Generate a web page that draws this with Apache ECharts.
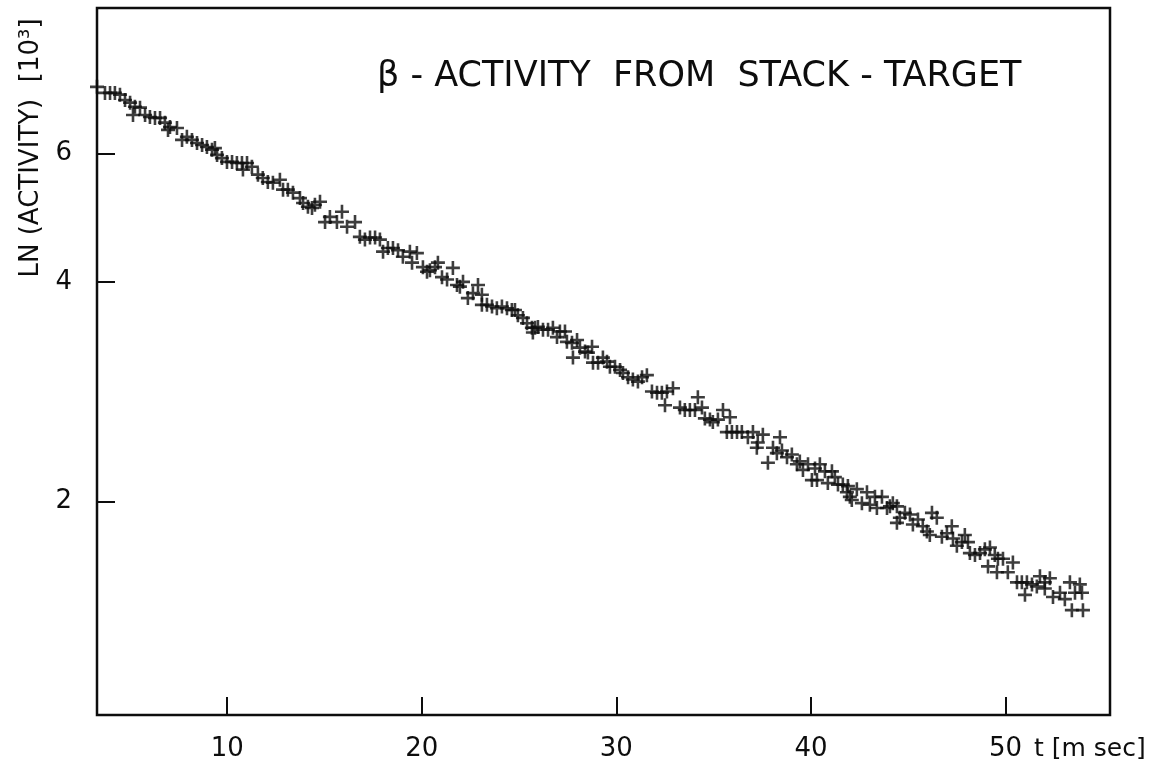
<!DOCTYPE html>
<html>
<head>
<meta charset="utf-8">
<script src="https://cdn.jsdelivr.net/npm/echarts@6/dist/echarts.min.js"></script>
<style>
html,body{margin:0;padding:0;background:#ffffff;}
#chart{width:1154px;height:769px;}
</style>
</head>
<body>
<div id="chart"></div>
<script>
// ---- texts ----
const titleText = 'β - ACTIVITY  FROM  STACK - TARGET';
const yAxisTitle = 'LN (ACTIVITY)  [10³]';
const xAxisTitle = 't [m sec]';

// ---- tick labels ----
const xTicks = [10, 20, 30, 40, 50];
const yTicks = [2, 4, 6];

// ---- axis ranges ----
const xRange = [3.31, 55.37];
const yRange = [1.02, 9.49];

// ---- measured points: time t [ms] ----
const tValues = [
  3.31, 3.72, 3.98, 4.23, 4.49, 4.75, 5.01, 5.26, 5.52, 5.16,
  5.78, 6.03, 6.29, 6.55, 6.80, 7.06, 7.42, 6.96, 7.68, 7.93,
  8.19, 8.45, 8.71, 8.96, 9.22, 9.37, 9.48, 9.73, 9.99, 10.25,
  10.50, 10.76, 11.02, 11.27, 10.81, 11.58, 11.83, 12.09, 12.35, 12.71,
  12.87, 13.12, 13.38, 13.74, 13.90, 14.15, 14.36, 14.51, 14.77, 15.03,
  15.28, 15.64, 15.90, 16.16, 16.57, 16.82, 17.08, 17.34, 17.60, 17.85,
  18.01, 18.26, 18.52, 18.78, 19.03, 19.39, 19.50, 19.75, 20.06, 20.27,
  20.42, 20.68, 20.83, 21.60, 21.04, 21.30, 21.81, 21.96, 22.12, 22.37,
  22.63, 22.89, 23.09, 23.09, 23.35, 23.61, 23.86, 24.12, 24.38, 24.63,
  24.79, 24.94, 25.20, 25.41, 25.66, 25.82, 25.97, 25.71, 26.23, 26.49,
  26.74, 26.95, 27.10, 27.36, 27.46, 27.72, 27.98, 28.13, 28.39, 28.54,
  28.75, 27.77, 28.80, 29.06, 29.31, 29.52, 29.67, 29.93, 30.19, 30.34,
  30.60, 30.85, 31.11, 31.32, 31.57, 31.83, 32.09, 32.34, 32.60, 32.91,
  32.50, 33.27, 33.52, 33.78, 34.04, 34.19, 34.40, 34.55, 34.81, 34.96,
  35.22, 35.48, 35.84, 35.68, 35.94, 36.20, 36.45, 36.76, 37.02, 37.22,
  37.53, 37.27, 37.79, 38.41, 38.05, 38.25, 38.51, 38.77, 39.02, 39.28,
  39.43, 39.59, 39.85, 40.05, 40.21, 40.46, 40.31, 40.72, 40.87, 41.08,
  41.23, 41.39, 41.64, 41.90, 41.85, 42.00, 42.10, 42.36, 42.62, 42.88,
  43.03, 43.29, 43.39, 43.65, 43.91, 44.06, 44.21, 44.42, 44.57, 44.42,
  44.83, 45.09, 45.24, 45.50, 45.75, 45.96, 46.22, 46.47, 46.11, 46.73,
  46.99, 47.24, 47.30, 47.50, 47.76, 47.91, 48.07, 48.17, 48.43, 48.69,
  48.94, 49.20, 49.45, 49.61, 49.87, 50.12, 50.38, 49.10, 49.56, 50.59,
  50.84, 51.10, 51.36, 51.61, 51.77, 52.02, 52.28, 51.00, 52.02, 52.44,
  52.80, 53.05, 53.31, 53.57, 53.82, 53.93, 53.41, 53.98
];

// ---- measured points: activity [10^3] ----
const activity = [
  7.40, 7.26, 7.26, 7.26, 7.22, 7.10, 7.04, 6.95, 6.93, 6.77,
  6.77, 6.73, 6.71, 6.71, 6.61, 6.52, 6.50, 6.46, 6.26, 6.32,
  6.26, 6.20, 6.16, 6.12, 6.07, 6.10, 5.97, 5.91, 5.84, 5.84,
  5.82, 5.82, 5.82, 5.75, 5.70, 5.61, 5.55, 5.48, 5.47, 5.52,
  5.35, 5.35, 5.30, 5.21, 5.13, 5.07, 5.05, 5.10, 5.15, 4.83,
  4.91, 4.83, 4.99, 4.76, 4.83, 4.61, 4.57, 4.60, 4.60, 4.57,
  4.40, 4.45, 4.45, 4.42, 4.33, 4.40, 4.25, 4.38, 4.19, 4.13,
  4.15, 4.19, 4.25, 4.18, 4.06, 4.03, 3.96, 3.94, 4.00, 3.80,
  3.86, 3.96, 3.84, 3.72, 3.72, 3.70, 3.68, 3.70, 3.68, 3.66,
  3.66, 3.60, 3.57, 3.51, 3.46, 3.46, 3.47, 3.41, 3.44, 3.44,
  3.46, 3.36, 3.42, 3.42, 3.31, 3.30, 3.33, 3.25, 3.21, 3.20,
  3.26, 3.15, 3.10, 3.10, 3.15, 3.11, 3.06, 3.06, 3.03, 3.00,
  2.96, 2.94, 2.92, 2.96, 2.98, 2.83, 2.82, 2.82, 2.83, 2.86,
  2.71, 2.69, 2.67, 2.67, 2.67, 2.78, 2.69, 2.60, 2.59, 2.57,
  2.59, 2.67, 2.61, 2.49, 2.49, 2.49, 2.49, 2.45, 2.49, 2.37,
  2.47, 2.41, 2.26, 2.45, 2.37, 2.33, 2.35, 2.30, 2.32, 2.25,
  2.27, 2.21, 2.25, 2.14, 2.22, 2.25, 2.14, 2.20, 2.12, 2.20,
  2.16, 2.11, 2.11, 2.10, 2.06, 2.03, 2.01, 2.08, 1.99, 2.06,
  1.98, 2.03, 1.96, 2.03, 1.96, 1.97, 1.99, 1.97, 1.90, 1.87,
  1.93, 1.92, 1.86, 1.89, 1.85, 1.82, 1.93, 1.90, 1.80, 1.79,
  1.81, 1.85, 1.78, 1.74, 1.76, 1.80, 1.76, 1.70, 1.69, 1.70,
  1.72, 1.73, 1.69, 1.67, 1.67, 1.60, 1.65, 1.63, 1.60, 1.55,
  1.55, 1.55, 1.54, 1.53, 1.58, 1.55, 1.57, 1.49, 1.52, 1.48,
  1.50, 1.47, 1.55, 1.50, 1.54, 1.50, 1.42, 1.42
];

const points = tValues.map((t, i) => [t, activity[i]]);

const FONT = 'DejaVu Sans';
const INK = '#0d0d0d';
const plusPath = 'path://M5.7,0H8.3V5.7H14V8.3H8.3V14H5.7V8.3H0V5.7H5.7Z';

const chart = echarts.init(document.getElementById('chart'), null, {renderer: 'canvas'});
chart.setOption({
  backgroundColor: '#ffffff',
  animation: false,
  title: {
    text: titleText,
    left: 372,
    top: 54,
    textStyle: {fontFamily: FONT, fontSize: 35, fontWeight: 'normal', color: INK}
  },
  grid: {
    left: 97, right: 44, top: 8, bottom: 54,
    show: true, borderColor: INK, borderWidth: 2.5, backgroundColor: 'transparent'
  },
  xAxis: {
    type: 'value',
    min: xRange[0], max: xRange[1],
    axisLine: {show: false},
    splitLine: {show: false},
    axisTick: {show: true, inside: true, length: 18, customValues: xTicks,
               lineStyle: {color: INK, width: 2}},
    axisLabel: {show: true, margin: 21, customValues: xTicks,
                fontFamily: FONT, fontSize: 26, color: INK}
  },
  yAxis: {
    type: 'log',
    logBase: Math.E,
    min: yRange[0], max: yRange[1],
    axisLine: {show: false},
    splitLine: {show: false},
    minorTick: {show: false},
    axisTick: {show: true, inside: true, length: 18, customValues: yTicks,
               lineStyle: {color: INK, width: 2}},
    axisLabel: {show: true, margin: 25, customValues: yTicks,
                fontFamily: FONT, fontSize: 26, color: INK}
  },
  graphic: [
    {type: 'text', x: 31, y: 148, rotation: Math.PI / 2,
     style: {text: yAxisTitle, textAlign: 'center', textVerticalAlign: 'middle',
             fontFamily: FONT, fontSize: 26, fill: INK}},
    {type: 'text', x: 1034, y: 749,
     style: {text: xAxisTitle, textAlign: 'left', textVerticalAlign: 'middle',
             fontFamily: FONT, fontSize: 25, fill: INK}}
  ],
  series: [{
    type: 'scatter',
    data: points,
    symbol: plusPath,
    symbolSize: 14,
    clip: false,
    itemStyle: {color: INK},
    emphasis: {disabled: true}
  }]
});
</script>
</body>
</html>
